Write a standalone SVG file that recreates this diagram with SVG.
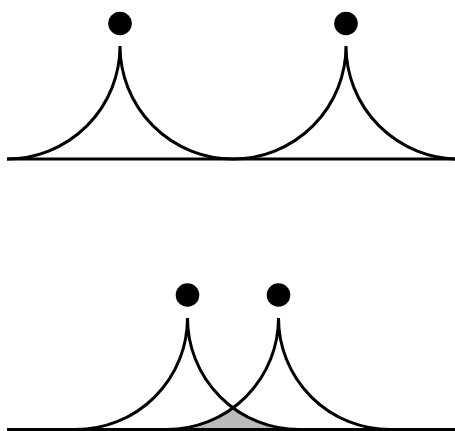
<svg xmlns="http://www.w3.org/2000/svg" width="455" height="431" viewBox="0 0 455 431">
<style>
.ln{fill:none;stroke:#000;stroke-width:3}
.dot{fill:#000}
</style>
<rect width="455" height="431" fill="#fff"/>
<g id="connectors">
<path id="overlap" d="M167,429.5 A111.5,111.5 0 0 0 233,407.9 A111.5,111.5 0 0 0 299,429.5 Z" fill="#bbbbbb"/>
<line class="ln" x1="7" y1="159" x2="455" y2="159"/>
<line class="ln" x1="7" y1="429.5" x2="455" y2="429.5"/>
</g>
<g id="cusp-top-left">
<path class="ln" d="M7,159 A113,113 0 0 0 120,46 A113,113 0 0 0 233,159"/>
<circle class="dot" cx="120" cy="23.5" r="11.8"/>
</g>
<g id="cusp-top-right">
<path class="ln" d="M233,159 A113,113 0 0 0 346,46 A113,113 0 0 0 459,159"/>
<circle class="dot" cx="346" cy="23.5" r="11.8"/>
</g>
<g id="cusp-bottom-left">
<path class="ln" d="M76,429.5 A111.5,111.5 0 0 0 187.5,318 A111.5,111.5 0 0 0 299,429.5"/>
<circle class="dot" cx="187.5" cy="295" r="11.8"/>
</g>
<g id="cusp-bottom-right">
<path class="ln" d="M167,429.5 A111.5,111.5 0 0 0 278.5,318 A111.5,111.5 0 0 0 390,429.5"/>
<circle class="dot" cx="278.5" cy="295" r="11.8"/>
</g>
</svg>
